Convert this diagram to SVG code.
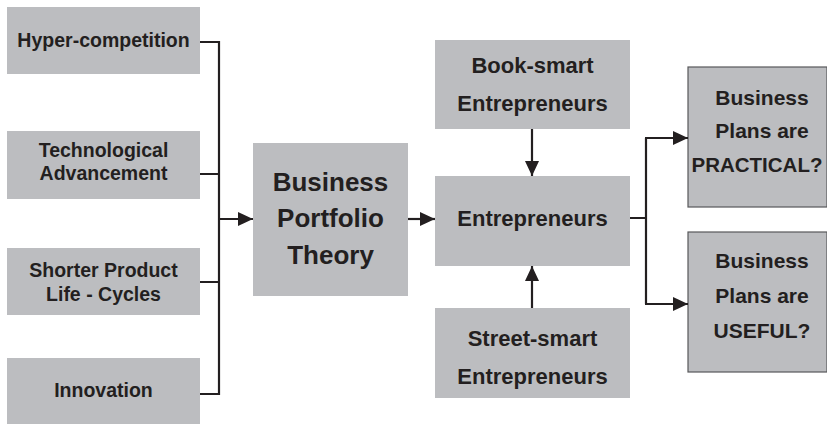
<svg xmlns="http://www.w3.org/2000/svg" width="827" height="424" viewBox="0 0 827 424">
<style>
.box{fill:#bcbdc0}
.rbox{fill:#bcbdc0;stroke:#58585a;stroke-width:1.2}
text{font-family:"Liberation Sans",Arial,sans-serif;font-weight:bold;fill:#231f20;text-anchor:middle}
.s{font-size:19.5px}
.m{font-size:22px}
.l{font-size:26px}
.r{font-size:21px}
.c{fill:none;stroke:#231f20;stroke-width:2.2}
</style>
<defs>
<marker id="ah" markerUnits="userSpaceOnUse" markerWidth="16" markerHeight="14" refX="15" refY="7" orient="auto">
<path d="M0,0 L15,7 L0,14 Z" fill="#231f20"/>
</marker>
</defs>
<rect width="827" height="424" fill="#ffffff"/>
<g id="hyper"><rect class="box" x="7" y="7" width="193" height="67"/><text class="s" x="103.5" y="47">Hyper-competition</text></g>
<g id="tech"><rect class="box" x="7" y="131" width="193" height="68"/><text class="s" x="103.5" y="157">Technological</text><text class="s" x="103.5" y="180">Advancement</text></g>
<g id="shorter"><rect class="box" x="7" y="248" width="193" height="67"/><text class="s" x="103.5" y="277">Shorter Product</text><text class="s" x="103.5" y="301">Life - Cycles</text></g>
<g id="innovation"><rect class="box" x="7" y="358" width="193" height="66"/><text class="s" x="103.5" y="397">Innovation</text></g>
<g id="bpt"><rect class="box" x="253" y="143" width="155" height="153"/><text class="l" x="330.5" y="191">Business</text><text class="l" x="330.5" y="227">Portfolio</text><text class="l" x="330.5" y="264">Theory</text></g>
<g id="book"><rect class="box" x="435" y="40" width="195" height="89"/><text class="m" x="532.5" y="73">Book-smart</text><text class="m" x="532.5" y="111">Entrepreneurs</text></g>
<g id="entre"><rect class="box" x="435" y="176" width="195" height="90"/><text class="m" x="532.5" y="226">Entrepreneurs</text></g>
<g id="street"><rect class="box" x="435" y="308" width="195" height="90"/><text class="m" x="532.5" y="346">Street-smart</text><text class="m" x="532.5" y="384">Entrepreneurs</text></g>
<g id="practical"><rect class="rbox" x="688" y="67" width="139" height="140"/><text class="r" x="762" y="105">Business</text><text class="r" x="762" y="138">Plans are</text><text class="r" x="757" y="172" style="font-size:20.5px">PRACTICAL?</text></g>
<g id="useful"><rect class="rbox" x="688" y="232" width="139" height="140"/><text class="r" x="762" y="268">Business</text><text class="r" x="762" y="303">Plans are</text><text class="r" x="762" y="338">USEFUL?</text></g>
<g id="connectors">
<path class="c" d="M200,42 H219 V394 H200 M200,174 H219 M200,282 H219"/>
<path class="c" d="M219,219 H253" marker-end="url(#ah)"/>
<path class="c" d="M408,219 H435" marker-end="url(#ah)"/>
<path class="c" d="M532,129 V176" marker-end="url(#ah)"/>
<path class="c" d="M532,308 V266" marker-end="url(#ah)"/>
<path class="c" d="M630,218 H646 M646,138 V304"/>
<path class="c" d="M645,138 H688" marker-end="url(#ah)"/>
<path class="c" d="M645,304 H688" marker-end="url(#ah)"/>
</g>
</svg>
